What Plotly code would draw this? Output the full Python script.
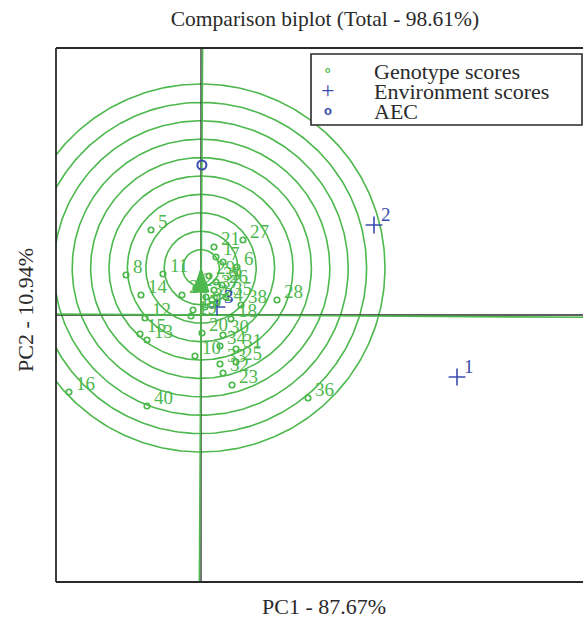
import numpy as np
import plotly.graph_objects as go

# ---------------- data ----------------
genotypes = [str(i) for i in range(1, 41)]
gen_pc1 = [0.15, -0.05, 0.05, 0.11, -0.50, 0.36, 0.22, -0.75, 0.04, -0.06,
           -0.38, -0.56, -0.54, -0.60, -0.61, -1.32, -0.08, 0.30, -0.10, 0.01,
           0.13, -0.19, 0.31, 0.16, 0.35, 0.21, 0.42, 0.76, 0.08, 0.22,
           0.35, 0.22, 0.19, 0.19, 0.25, 1.07, 0.13, 0.40, 0.15, -0.54]
gen_pc2 = [0.58, 0.27, 0.18, 0.15, 0.85, 0.48, 0.53, 0.40, 0.08, -0.41,
           0.41, -0.03, -0.25, 0.20, -0.19, -0.77, 0.05, -0.04, -0.01, -0.18,
           0.68, 0.20, -0.70, 0.12, -0.47, 0.30, 0.75, 0.15, 0.39, -0.20,
           -0.34, -0.58, -0.49, -0.31, 0.18, -0.83, 0.25, 0.10, 0.33, -0.91]

env_names = ["1", "2", "3"]
env_pc1 = [2.56, 1.73, 0.16]
env_pc2 = [-0.62, 0.90, 0.08]

aec_pc1 = [0.009]
aec_pc2 = [1.50]

ideal_pc1 = 0.0
ideal_pc2 = 0.47
circle_radii = [0.184, 0.368, 0.552, 0.736, 0.92, 1.104, 1.288, 1.472, 1.656, 1.84]

title_text = "Comparison biplot (Total - 98.61%)"
xlab = "PC1 - 87.67%"
ylab = "PC2 - 10.94%"
legend_labels = ["Genotype scores", "Environment scores", "AEC"]

# ---------------- style ----------------
W, H = 583, 622
ML, MR, MT, MB = 56, 0, 48, 40
x_range = [-1.45, 3.82]
y_range = [-2.67, 2.67]
GREEN = "#4DB84D"
BLUE = "#3A4DAE"
DARK = "#2a2a2a"
SERIF = "Liberation Serif, Times New Roman, serif"

pw = W - ML - MR
ph = H - MT - MB


def px_x(p):
    return (p - ML) / pw


def px_y(p):
    return (H - MB - p) / ph


fig = go.Figure()

# concentric circles around the ideal genotype
t = np.linspace(0, 2 * np.pi, 361)
for r in circle_radii:
    fig.add_trace(go.Scatter(x=ideal_pc1 + r * np.cos(t), y=ideal_pc2 + r * np.sin(t),
                             mode="lines", line=dict(color=GREEN, width=1.6),
                             hoverinfo="skip", showlegend=False))

# black axes through origin
fig.add_trace(go.Scatter(x=[0, 0], y=y_range, mode="lines",
                         line=dict(color=DARK, width=1.3), showlegend=False, hoverinfo="skip"))
fig.add_trace(go.Scatter(x=x_range, y=[0, 0], mode="lines",
                         line=dict(color=DARK, width=1.3), showlegend=False, hoverinfo="skip"))

# AEC axis and its perpendicular (green)
ax, ay = aec_pc1[0], aec_pc2[0]
ext = 10
fig.add_trace(go.Scatter(x=[-ext * ax, ext * ax], y=[-ext * ay, ext * ay], mode="lines",
                         line=dict(color=GREEN, width=1.6), showlegend=False, hoverinfo="skip"))
fig.add_trace(go.Scatter(x=[-ext * ay, ext * ay], y=[ext * ax, -ext * ax], mode="lines",
                         line=dict(color=GREEN, width=1.6), showlegend=False, hoverinfo="skip"))

# arrowhead at the ideal genotype
norm = np.hypot(ideal_pc1, ideal_pc2)
ux, uy = ideal_pc1 / norm, ideal_pc2 / norm
hl, hw = 0.24, 0.08
bx, by = ideal_pc1 - hl * ux, ideal_pc2 - hl * uy
fig.add_trace(go.Scatter(x=[ideal_pc1, bx - hw * uy, bx + hw * uy, ideal_pc1],
                         y=[ideal_pc2, by + hw * ux, by - hw * ux, ideal_pc2],
                         mode="lines", fill="toself", fillcolor=GREEN,
                         line=dict(color=GREEN, width=1), showlegend=False, hoverinfo="skip"))

# genotype points
fig.add_trace(go.Scatter(x=gen_pc1, y=gen_pc2, mode="markers",
                         marker=dict(symbol="circle-open", size=5.5, color=GREEN, line=dict(width=1.7)),
                         text=genotypes, showlegend=False))
# environment points
fig.add_trace(go.Scatter(x=env_pc1, y=env_pc2, mode="markers",
                         marker=dict(symbol="cross-thin-open", size=12, color=BLUE, line=dict(width=1.6, color=BLUE)),
                         text=env_names, showlegend=False))
# AEC point
fig.add_trace(go.Scatter(x=aec_pc1, y=aec_pc2, mode="markers",
                         marker=dict(symbol="circle-open", size=9, color=BLUE, line=dict(width=2, color=BLUE)),
                         showlegend=False))

annotations = []
for g, x, y in zip(genotypes, gen_pc1, gen_pc2):
    annotations.append(dict(x=x, y=y, xref="x", yref="y", text=g, showarrow=False,
                            xanchor="left", yanchor="middle", xshift=5, yshift=9,
                            font=dict(family=SERIF, size=19, color=GREEN)))
for e, x, y in zip(env_names, env_pc1, env_pc2):
    annotations.append(dict(x=x, y=y, xref="x", yref="y", text=e, showarrow=False,
                            xanchor="left", yanchor="middle", xshift=5, yshift=11,
                            font=dict(family=SERIF, size=19, color=BLUE)))

# axis titles
annotations.append(dict(x=px_x(324), y=px_y(606), xref="paper", yref="paper", text=xlab,
                        showarrow=False, xanchor="center", yanchor="middle",
                        font=dict(family=SERIF, size=22, color=DARK)))
annotations.append(dict(x=px_x(25), y=px_y(310), xref="paper", yref="paper", text=ylab,
                        showarrow=False, xanchor="center", yanchor="middle", textangle=-90,
                        font=dict(family=SERIF, size=22, color=DARK)))

# manual legend
rows = [71, 91.5, 112]
for lab, ry in zip(legend_labels, rows):
    annotations.append(dict(x=px_x(372), y=px_y(ry), xref="paper", yref="paper", text=lab,
                            showarrow=False, xanchor="left", yanchor="middle",
                            font=dict(family=SERIF, size=22, color=DARK)))
annotations.append(dict(x=px_x(328), y=px_y(rows[0] - 1), xref="paper", yref="paper", text="<b>o</b>",
                        showarrow=False, xanchor="center", yanchor="middle",
                        font=dict(family="Liberation Sans", size=9, color=GREEN)))
annotations.append(dict(x=px_x(328), y=px_y(rows[1] - 2), xref="paper", yref="paper", text="+",
                        showarrow=False, xanchor="center", yanchor="middle",
                        font=dict(family=SERIF, size=24, color=BLUE)))
annotations.append(dict(x=px_x(328), y=px_y(rows[2] - 1), xref="paper", yref="paper", text="<b>o</b>",
                        showarrow=False, xanchor="center", yanchor="middle",
                        font=dict(family="Liberation Sans", size=13, color=BLUE)))

shapes = [
    dict(type="line", xref="paper", yref="paper", x0=0, x1=0, y0=0, y1=1, line=dict(color=DARK, width=1.8)),
    dict(type="line", xref="paper", yref="paper", x0=0, x1=1.02, y0=1, y1=1, line=dict(color=DARK, width=1.8)),
    dict(type="line", xref="paper", yref="paper", x0=0, x1=1.02, y0=0, y1=0, line=dict(color=DARK, width=1.8)),
    dict(type="rect", xref="paper", yref="paper", x0=px_x(311), x1=px_x(582), y0=px_y(125), y1=px_y(54),
         line=dict(color=DARK, width=1.6), fillcolor="white", layer="above"),
]

fig.update_layout(
    width=W, height=H,
    margin=dict(l=ML, r=MR, t=MT, b=MB),
    paper_bgcolor="white", plot_bgcolor="white",
    title=dict(text=title_text, x=325 / W, xanchor="center", xref="container",
               y=1 - 18 / H, yanchor="middle", yref="container",
               font=dict(family=SERIF, size=21.5, color=DARK)),
    xaxis=dict(range=x_range, showgrid=False, zeroline=False, showticklabels=False,
               ticks="", showline=False),
    yaxis=dict(range=y_range, showgrid=False, zeroline=False, showticklabels=False,
               ticks="", showline=False),
    annotations=annotations,
    shapes=shapes,
    showlegend=False,
    hovermode=False,
)

fig.write_html("out.html", config={"displayModeBar": False, "staticPlot": True},
               post_script="document.body.style.margin='0';document.body.style.overflow='hidden';")
